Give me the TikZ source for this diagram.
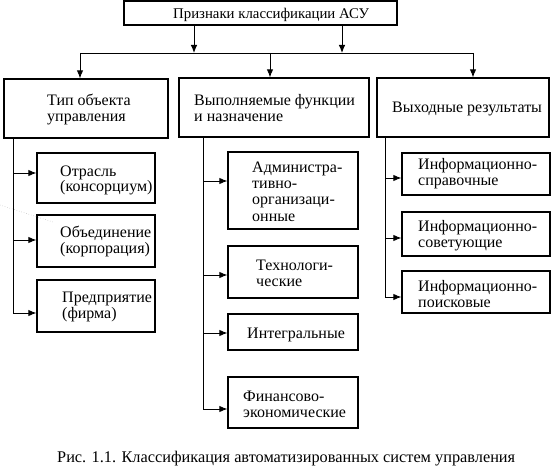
\documentclass[tikz,border=0pt]{standalone}
\usepackage{fontspec}
\setmainfont{Liberation Serif}
\usetikzlibrary{arrows.meta}
\newcommand{\lines}[1]{\begin{tabular}[t]{@{}l@{}}#1\end{tabular}}
\begin{document}
\begin{tikzpicture}[x=1pt,y=-1pt,
  box/.style={draw=black, line width=1.3pt, inner sep=0pt},
  txt/.style={inner sep=0pt, anchor=base west, font=\fontsize{16}{16}\selectfont},
  line/.style={draw=black, line width=0.9pt},
  arr/.style={line, -{Latex[length=8pt,width=6.5pt]}}]
\useasboundingbox (0,0) rectangle (551,473);
% boxes (from corner coordinates)
\newcommand{\mybox}[5]{\node[box, minimum width=#4-#2, minimum height=#5-#3] (#1) at ({(#2+#4)/2},{(#3+#5)/2}) {};}
\mybox{top}{124}{1}{397}{25}
\mybox{b1}{4}{79}{168}{138}
\mybox{b2}{179}{78}{369}{137}
\mybox{b3}{377}{78}{549}{137}
\mybox{l1}{37}{153}{155}{203}
\mybox{l2}{37}{215}{155}{267}
\mybox{l3}{37}{280}{155}{332}
\mybox{m1}{228}{152}{358}{229}
\mybox{m2}{228}{246}{358}{298}
\mybox{m3}{228}{314}{358}{350}
\mybox{m4}{228}{377}{358}{428}
\mybox{r1}{402}{153}{550}{195}
\mybox{r2}{402}{212}{550}{256}
\mybox{r3}{402}{271}{550}{313}
% texts
\node[txt, font=\fontsize{14.8}{16}\selectfont] (ttop) at (173,19) {Признаки классификации АСУ};
\node[txt] (tb1) at (47,106) {\lines{Тип объекта\\управления}};
\node[txt] (tb2) at (194,106) {\lines{Выполняемые функции\\и назначение}};
\node[txt] (tb3) at (392,113) {Выходные результаты};
\node[txt] (tl1) at (60,176) {\lines{Отрасль\\(консорциум)}};
\node[txt] (tl2) at (60,237) {\lines{Объединение\\(корпорация)}};
\node[txt] (tl3) at (62,302) {\lines{Предприятие\\(фирма)}};
\node[txt] (tm1) at (252,173) {\lines{Администра-\\тивно-\\организаци-\\онные}};
\node[txt] (tm2) at (256,270) {\lines{Технологи-\\ческие}};
\node[txt] (tm3) at (247,338) {Интегральные};
\node[txt] (tm4) at (243,401) {\lines{Финансово-\\экономические}};
\node[txt] (tr1) at (418,170) {\lines{Информационно-\\справочные}};
\node[txt] (tr2) at (418,231) {\lines{Информационно-\\советующие}};
\node[txt] (tr3) at (418,291) {\lines{Информационно-\\поисковые}};
\node[txt, font=\fontsize{16.3}{17}\selectfont] (cap) at (57,462) {Рис. 1.1. Классификация автоматизированных систем управления};
% connector coordinates
\coordinate (hl) at (80,53);
\coordinate (hr) at (473,53);
\coordinate (a1) at (194,53);
\coordinate (a2) at (342,53);
\coordinate (hm) at (270,53);
\coordinate (v1) at (13,313);
\coordinate (v2) at (203,409);
\coordinate (v3) at (385,297);
% top level connectors
\draw[line] (hl) -- (hr);
\draw[arr] (top.south -| a1) -- (a1);
\draw[arr] (top.south -| a2) -- (a2);
\draw[arr] (hl) -- (b1.north -| hl);
\draw[arr] (hm) -- (b2.north -| hm);
\draw[arr] (hr) -- (b3.north -| hr);
% column spines
\draw[line] (b1.south -| v1) -- (v1);
\draw[line] (b2.south -| v2) -- (v2);
\draw[line] (b3.south -| v3) -- (v3);
% branches
\draw[arr] (v1 |- 0,173) -- (l1.west |- 0,173);
\draw[arr] (v1 |- 0,240) -- (l2.west |- 0,240);
\draw[arr] (v1) -- (l3.west |- v1);
\draw[arr] (v2 |- 0,181) -- (m1.west |- 0,181);
\draw[arr] (v2 |- 0,275) -- (m2.west |- 0,275);
\draw[arr] (v2 |- 0,333) -- (m3.west |- 0,333);
\draw[arr] (v2) -- (m4.west |- v2);
\draw[arr] (v3 |- 0,178) -- (r1.west |- 0,178);
\draw[arr] (v3 |- 0,238) -- (r2.west |- 0,238);
\draw[arr] (v3) -- (r3.west |- v3);
% faint scan stroke
\coordinate (s1) at (0,205);
\coordinate (s2) at (53,222);
\draw[gray!60, dotted, line width=0.5pt] (s1) -- (s2);
\end{tikzpicture}
\end{document}
